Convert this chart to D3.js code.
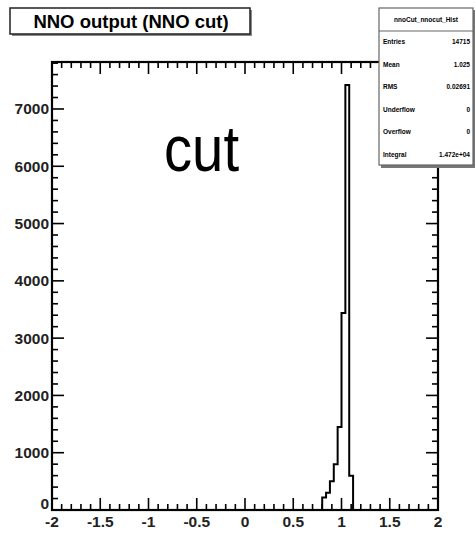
<!DOCTYPE html>
<html>
<head>
<meta charset="utf-8">
<script src="https://cdn.jsdelivr.net/npm/d3@7"></script>
<style>
  body { margin: 0; background: #fff; }
  text { font-family: "Liberation Sans", Arial, sans-serif; }
</style>
</head>
<body>
<div id="chart"></div>
<script>
var width = 475
var height = 533

// histogram bins (lower edges, width 0.04) and counts
var binEdges = [0.80, 0.84, 0.88, 0.92, 0.96, 1.00, 1.04, 1.08]
var binWidth = 0.04
var counts = [220, 300, 500, 800, 1450, 3440, 7420, 600]

var xTicks = [-2, -1.5, -1, -0.5, 0, 0.5, 1, 1.5, 2]
var yTicks = [0, 1000, 2000, 3000, 4000, 5000, 6000, 7000]

var statLabels = ["Entries", "Mean", "RMS", "Underflow", "Overflow", "Integral"]
var statValues = ["14715", "1.025", "0.02691", "0", "0", "1.472e+04"]

var margin = {left: 52, right: 37, top: 62, bottom: 23}

var svg = d3.select("#chart")
  .append("svg")
    .attr("width", width)
    .attr("height", height)

var x = d3.scaleLinear()
    .domain([-2, 2])
    .range([margin.left, width - margin.right])

var y = d3.scaleLinear()
    .domain([0, 7820])
    .range([height - margin.bottom, margin.top])

var x0 = x.range()[0], x1 = x.range()[1]
var y0 = y.range()[0], y1 = y.range()[1]

// ticks, ROOT style (inside the frame, on all four sides)
var minorX = d3.range(-20, 21).map(function(i){ return i / 10 })
var minorY = d3.range(0, 7801, 200)

var ticks = svg.append("g").attr("stroke", "#000").attr("stroke-width", 1.6)
minorX.forEach(function(v) {
  var major = Math.abs(v * 2 - Math.round(v * 2)) < 1e-6
  var len = major ? 12 : 6
  ticks.append("line").attr("x1", x(v)).attr("x2", x(v)).attr("y1", y0).attr("y2", y0 - len)
  ticks.append("line").attr("x1", x(v)).attr("x2", x(v)).attr("y1", y1).attr("y2", y1 + len)
})
minorY.forEach(function(v) {
  var len = v % 1000 === 0 ? 12 : 6
  ticks.append("line").attr("y1", y(v)).attr("y2", y(v)).attr("x1", x0).attr("x2", x0 + len)
  ticks.append("line").attr("y1", y(v)).attr("y2", y(v)).attr("x1", x1).attr("x2", x1 - len)
})

// histogram outline
var pts = [[binEdges[0], 0]]
binEdges.forEach(function(e, i) { pts.push([e, counts[i]]) })
pts.push([binEdges[binEdges.length - 1] + binWidth, counts[counts.length - 1]])
pts.push([binEdges[binEdges.length - 1] + binWidth, 0])

var line = d3.line()
  .x(function(d){ return x(d[0]) })
  .y(function(d){ return y(d[1]) })
  .curve(d3.curveStepAfter)

svg.append("path")
  .datum(pts)
  .attr("d", line)
  .attr("fill", "none")
  .attr("stroke", "#000")
  .attr("stroke-width", 2)

// frame
svg.append("rect")
  .attr("x", x0).attr("y", y1)
  .attr("width", x1 - x0).attr("height", y0 - y1)
  .attr("fill", "none").attr("stroke", "#000").attr("stroke-width", 2.2)

// tick labels
svg.append("g").selectAll("text")
  .data(xTicks)
  .enter().append("text")
    .attr("x", function(d){ return x(d) })
    .attr("y", 527)
    .attr("text-anchor", "middle")
    .attr("font-size", 15.5)
    .attr("font-weight", "bold")
    .attr("fill", "#222")
    .text(function(d){ return d })

svg.append("g").selectAll("text")
  .data(yTicks)
  .enter().append("text")
    .attr("x", x0 - 3)
    .attr("y", function(d){ return d === 0 ? y(d) - 1 : y(d) + 5.5 })
    .attr("text-anchor", "end")
    .attr("font-size", 15.5)
    .attr("font-weight", "bold")
    .attr("fill", "#222")
    .text(function(d){ return d })

// title box
svg.append("rect").attr("x", 12).attr("y", 10).attr("width", 240).attr("height", 26).attr("fill", "#888")
svg.append("rect").attr("x", 10).attr("y", 8).attr("width", 240).attr("height", 26)
  .attr("fill", "#fff").attr("stroke", "#222").attr("stroke-width", 1.5)
svg.append("text")
  .attr("x", 131).attr("y", 28)
  .attr("text-anchor", "middle")
  .attr("font-size", 18.5)
  .attr("font-weight", "bold")
  .text("NNO output (NNO cut)")

// big annotation
svg.append("text")
  .attr("x", 164).attr("y", 171)
  .attr("font-size", 64)
  .attr("textLength", 75)
  .attr("lengthAdjust", "spacingAndGlyphs")
  .text("cut")

// stats box
var sb = svg.append("g")
sb.append("rect").attr("x", 381).attr("y", 10).attr("width", 96).attr("height", 158).attr("fill", "#777")
sb.append("rect").attr("x", 379).attr("y", 8).attr("width", 94).attr("height", 157)
  .attr("fill", "#fff").attr("stroke", "#666").attr("stroke-width", 1.2)
sb.append("line").attr("x1", 379).attr("x2", 473).attr("y1", 31).attr("y2", 31)
  .attr("stroke", "#666").attr("stroke-width", 1.2)
sb.append("text").attr("x", 426).attr("y", 22).attr("text-anchor", "middle")
  .attr("font-size", 6.5).attr("font-weight", "bold").text("nnoCut_nnocut_Hist")
statLabels.forEach(function(s, i) {
  var ty = 44 + i * 22.6
  sb.append("text").attr("x", 383).attr("y", ty).attr("font-size", 6.5).attr("font-weight", "bold").text(s)
  sb.append("text").attr("x", 470).attr("y", ty).attr("text-anchor", "end")
    .attr("font-size", 6.5).attr("font-weight", "bold").text(statValues[i])
})
</script>
</body>
</html>
